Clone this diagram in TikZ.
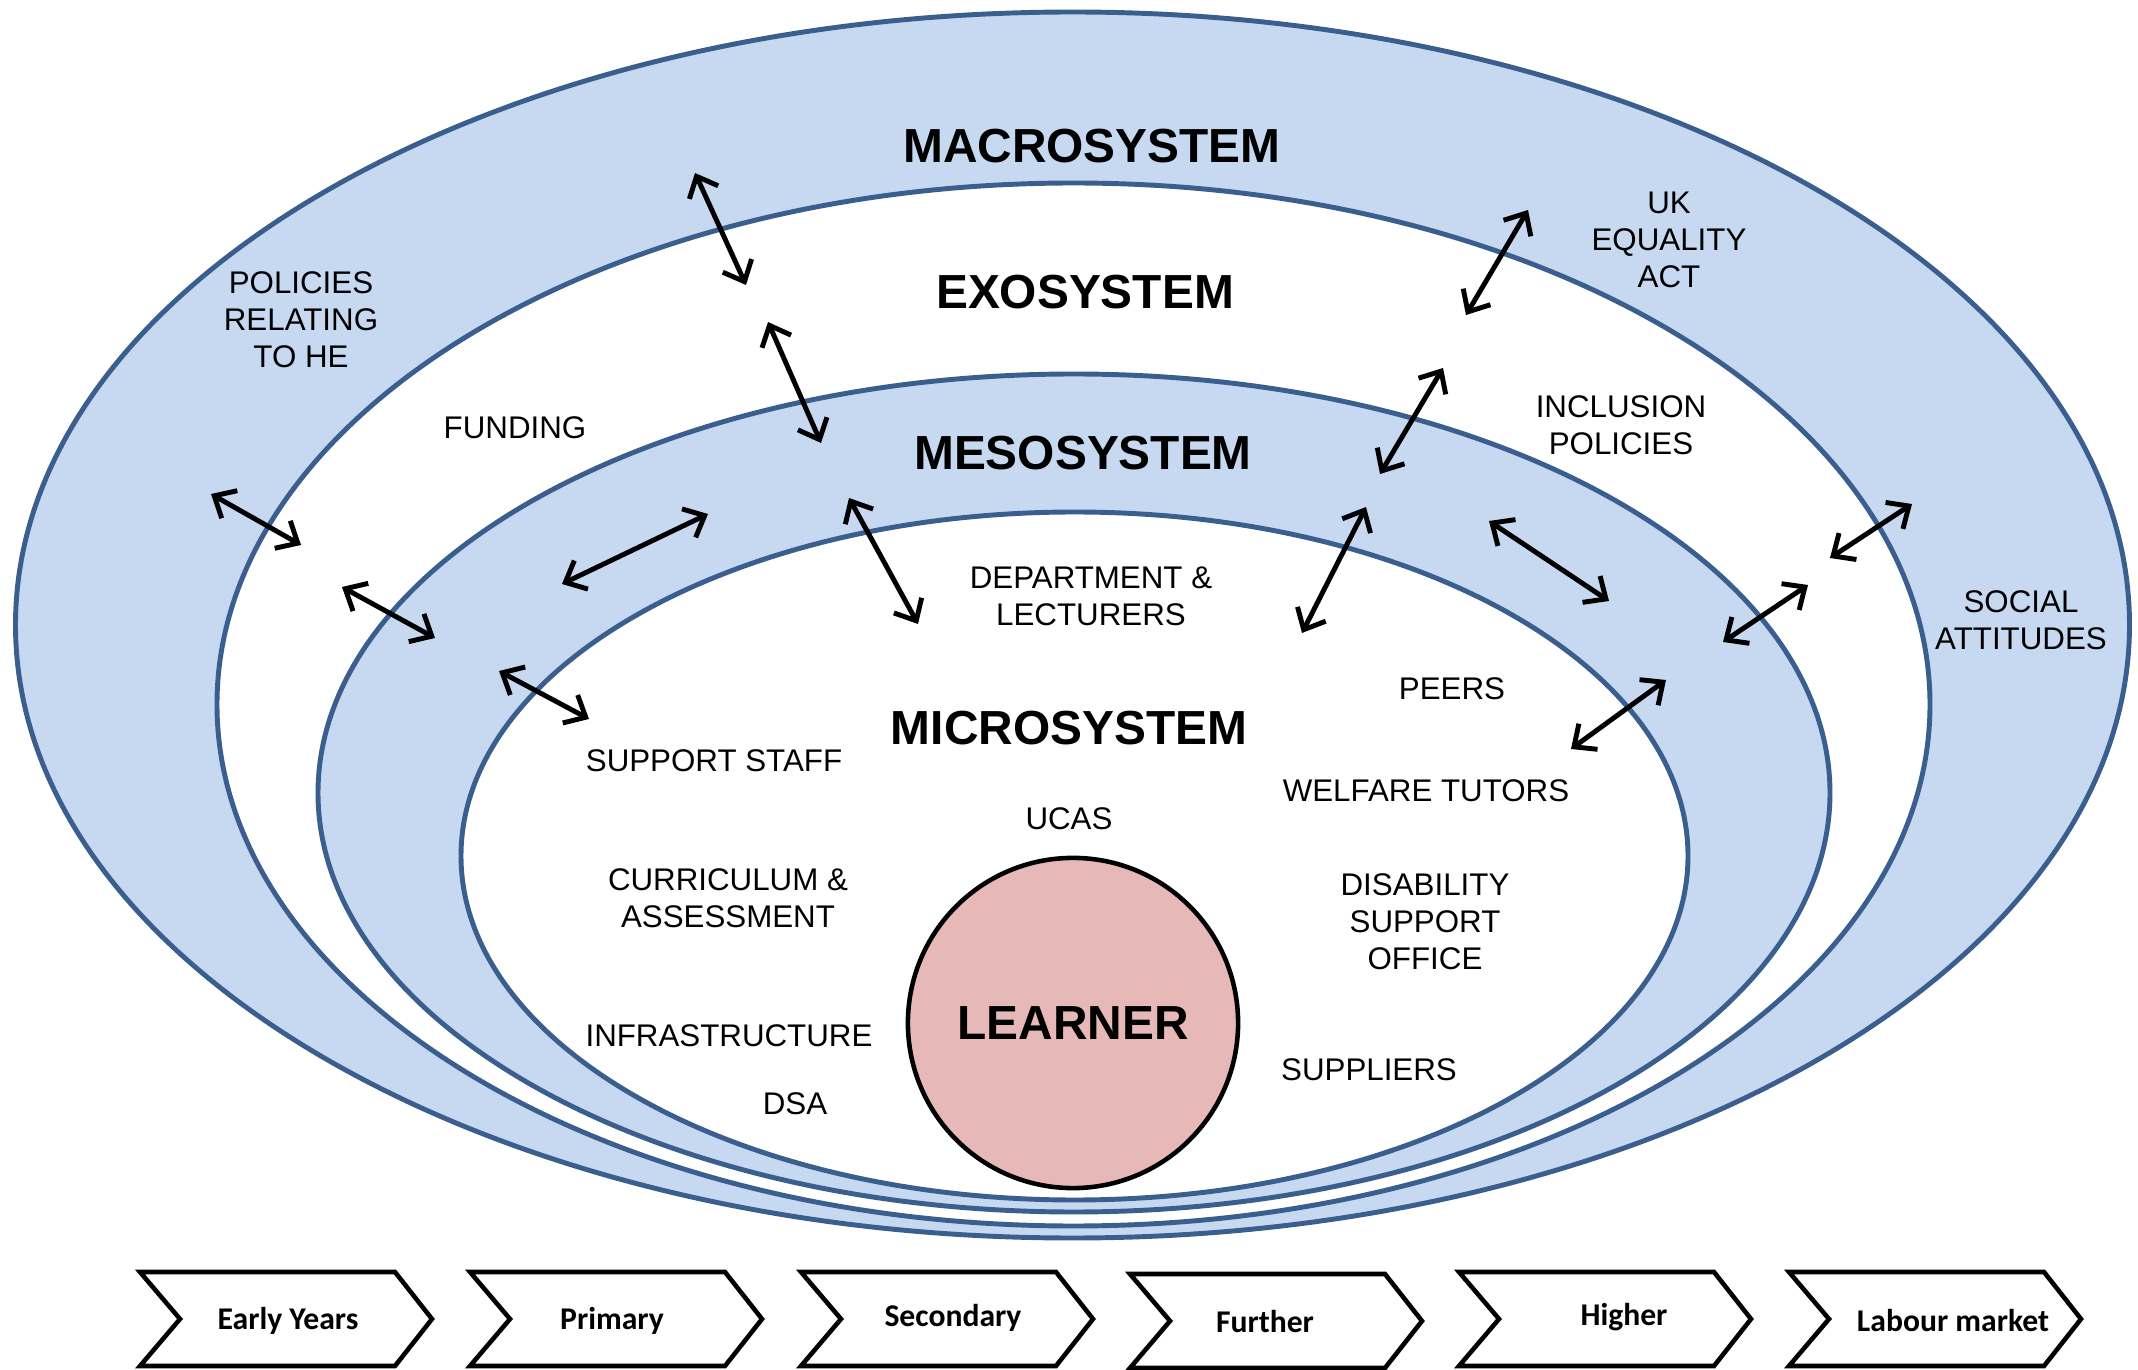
\documentclass[tikz,border=0pt]{standalone}
\usepackage{fontspec}
\setmainfont{Liberation Sans}
\newfontfamily\chevfont{Carlito}
\usetikzlibrary{arrows.meta}
\definecolor{bandblue}{HTML}{C6D9F1}
\definecolor{ringline}{HTML}{3A5F8E}
\definecolor{learnerpink}{HTML}{E6B9B8}

\begin{document}
\begin{tikzpicture}[line cap=round,line join=round,>={Straight Barb[length=5pt,width=9pt]},x=0.01cm,y=-0.01cm,
  ring/.style={draw=ringline,line width=1.4pt},
  lbl/.style={font=\fontsize{8.9}{10.5}\selectfont,align=center,inner sep=0pt},
  sys/.style={font=\fontsize{13.6}{16}\selectfont\bfseries,inner sep=0pt},
  stage/.style={font=\chevfont\bfseries\fontsize{9}{11}\selectfont,inner sep=0pt},
  chev/.style={draw,line width=1.3pt,line join=miter},
  link/.style={<->,line width=1.4pt}]
\useasboundingbox (0,0) rectangle (2138,1370);
% the four systems
\draw [ring,fill=bandblue] (1072.5,625) ellipse [x radius=1057,y radius=613];
\draw [ring,fill=white] (1073.5,704.5) ellipse [x radius=856.5,y radius=521.5];
\draw [ring,fill=bandblue] (1074,793) ellipse [x radius=756,y radius=419];
\draw [ring,fill=white] (1074.5,856) ellipse [x radius=613.5,y radius=344];
\node[circle,draw,line width=1.3pt,fill=learnerpink,minimum size=3.3cm,inner sep=0pt,sys] (learner) at (1073,1023) {LEARNER};

\node[sys] (macro) at (1092,146) {MACROSYSTEM};
\node[sys] (exo) at (1085,292) {EXOSYSTEM};
\node[sys] (meso) at (1083,453) {MESOSYSTEM};
\node[sys] (micro) at (1069,728) {MICROSYSTEM};

\node[lbl] (policies) at (301,320) {POLICIES\\RELATING\\TO HE};
\node[lbl] (funding) at (515,428) {FUNDING};
\node[lbl] (equality) at (1669,240) {UK\\EQUALITY\\ACT};
\node[lbl] (inclusion) at (1621,425) {INCLUSION\\POLICIES};
\node[lbl] (social) at (2021,620) {SOCIAL\\ATTITUDES};
\node[lbl] (dept) at (1091,596) {DEPARTMENT \&\\LECTURERS};
\node[lbl] (peers) at (1452,689) {PEERS};
\node[lbl] (staff) at (714,761) {SUPPORT STAFF};
\node[lbl] (welfare) at (1426,791) {WELFARE TUTORS};
\node[lbl] (ucas) at (1069,819) {UCAS};
\node[lbl] (curric) at (728,898) {CURRICULUM \&\\ASSESSMENT};
\node[lbl] (disab) at (1425,922) {DISABILITY\\SUPPORT\\OFFICE};
\node[lbl] (infra) at (729,1036) {INFRASTRUCTURE};
\node[lbl] (suppl) at (1369,1070) {SUPPLIERS};
\node[lbl] (dsa) at (795,1104) {DSA};

% links between the systems
\coordinate (a1) at (695,173);   \coordinate (b1) at (746,285);
\coordinate (a2) at (768,322);   \coordinate (b2) at (821,443);
\coordinate (a3) at (1528,210);  \coordinate (b3) at (1466,315);
\coordinate (a4) at (1443,368);  \coordinate (b4) at (1380,474);
\coordinate (a5) at (211,494);   \coordinate (b5) at (301,545);
\coordinate (a6) at (342,587);   \coordinate (b6) at (435,638);
\coordinate (a7) at (499,671);   \coordinate (b7) at (589,719);
\coordinate (a8) at (562,584);   \coordinate (b8) at (708,514);
\coordinate (a9) at (849,498);   \coordinate (b9) at (918,624);
\coordinate (a10) at (1366,507); \coordinate (b10) at (1302,633);
\coordinate (a11) at (1489,521); \coordinate (b11) at (1609,601);
\coordinate (a12) at (1912,504); \coordinate (b12) at (1830,558);
\coordinate (a13) at (1808,585); \coordinate (b13) at (1723,642);
\coordinate (a14) at (1666,680); \coordinate (b14) at (1571,749);
\draw [link] (a1) -- (b1);
\draw [link] (a2) -- (b2);
\draw [link] (a3) -- (b3);
\draw [link] (a4) -- (b4);
\draw [link] (a5) -- (b5);
\draw [link] (a6) -- (b6);
\draw [link] (a7) -- (b7);
\draw [link] (a8) -- (b8);
\draw [link] (a9) -- (b9);
\draw [link] (a10) -- (b10);
\draw [link] (a11) -- (b11);
\draw [link] (a12) -- (b12);
\draw [link] (a13) -- (b13);
\draw [link] (a14) -- (b14);

% stages
\draw [chev] (140,1272) -- ++(255,0) -- ++(37,47) -- ++(-37,47) -- ++(-255,0) -- ++(40,-47) -- cycle;
\draw [chev] (470,1272) -- ++(255,0) -- ++(37,47) -- ++(-37,47) -- ++(-255,0) -- ++(40,-47) -- cycle;
\draw [chev] (801,1272) -- ++(255,0) -- ++(37,47) -- ++(-37,47) -- ++(-255,0) -- ++(40,-47) -- cycle;
\draw [chev] (1130,1274) -- ++(255,0) -- ++(37,47) -- ++(-37,47) -- ++(-255,0) -- ++(40,-47) -- cycle;
\draw [chev] (1459,1272) -- ++(255,0) -- ++(37,47) -- ++(-37,47) -- ++(-255,0) -- ++(40,-47) -- cycle;
\draw [chev] (1789,1272) -- ++(255,0) -- ++(37,47) -- ++(-37,47) -- ++(-255,0) -- ++(40,-47) -- cycle;
\node[stage] (early) at (288,1321) {Early Years};
\node[stage] (primary) at (612,1321) {Primary};
\node[stage] (secondary) at (953,1318) {Secondary};
\node[stage] (further) at (1265,1322) {Further};
\node[stage] (higher) at (1624,1317) {Higher};
\node[stage] (labour) at (1953,1321) {Labour market};
\end{tikzpicture}
\end{document}
